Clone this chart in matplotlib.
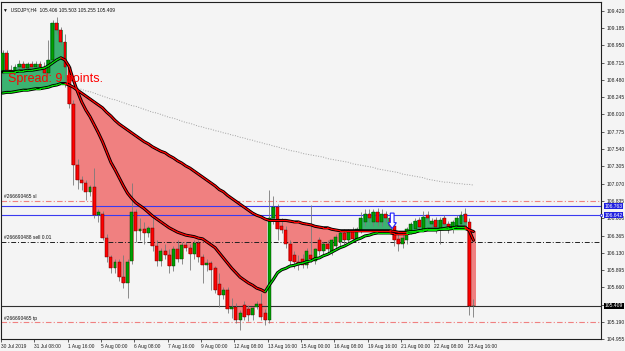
import matplotlib
matplotlib.use("Agg")
import matplotlib.pyplot as plt
import matplotlib.transforms as mtransforms
from matplotlib.collections import LineCollection
from matplotlib.patches import FancyArrow
import numpy as np

plt.rcParams['font.family'] = ['Liberation Sans', 'DejaVu Sans']

# USDJPY H4 bars, 30 Jul 2019 00:00 -> 23 Aug 2019 20:00 (one row = one trading day)
opens = [
    108.58, 108.85, 108.62, 108.60, 108.66, 108.70,
    108.64, 108.69, 108.65, 108.70, 108.66, 108.58,
    108.75, 109.25, 109.16, 109.00, 108.65, 108.15,
    107.32, 107.12, 107.08, 106.95, 107.02, 106.64,
    106.66, 106.33, 106.07, 105.92, 106.00, 105.80,
    105.72, 106.02, 106.68, 106.42, 106.45, 106.40,
    106.47, 106.22, 106.02, 106.15, 106.10, 105.95,
    106.18, 106.05, 106.24, 106.20, 106.12, 106.27,
    106.07, 105.96, 105.99, 105.92, 105.70, 105.56,
    105.63, 105.36, 105.40, 105.22, 105.42, 105.36,
    105.28, 105.40, 105.44, 105.31, 105.22, 106.60,
    106.75, 106.50, 106.44, 106.25, 106.10, 106.00,
    106.05, 105.97, 106.10, 106.02, 106.30, 106.15,
    106.25, 106.15, 106.22, 106.28, 106.40, 106.30,
    106.42, 106.32, 106.42, 106.55, 106.66, 106.55,
    106.68, 106.55, 106.66, 106.60, 106.50, 106.32,
    106.25, 106.30, 106.42, 106.45, 106.58, 106.45,
    106.64, 106.52, 106.58, 106.46, 106.60, 106.52,
    106.45, 106.50, 106.52, 106.66, 106.55, 105.406,
]
highs = [
    108.88, 108.88, 108.68, 108.70, 108.75, 108.74,
    108.72, 108.74, 108.73, 108.74, 108.72, 109.02,
    109.30, 109.33, 109.20, 109.10, 108.70, 108.20,
    107.40, 107.18, 107.12, 107.05, 107.28, 106.72,
    106.70, 106.38, 106.10, 106.05, 106.05, 106.10,
    106.05, 107.08, 106.72, 106.60, 106.55, 106.50,
    106.62, 106.30, 106.20, 106.25, 106.18, 106.22,
    106.30, 106.28, 106.28, 106.25, 106.30, 106.30,
    106.12, 106.05, 106.02, 105.95, 105.85, 105.66,
    105.66, 105.52, 105.45, 105.35, 105.48, 105.42,
    105.40, 105.48, 105.58, 105.36, 106.98, 106.90,
    106.80, 106.60, 106.50, 106.30, 106.15, 106.10,
    106.12, 106.20, 106.78, 106.20, 106.35, 106.28,
    106.30, 106.32, 106.38, 106.45, 106.45, 106.45,
    106.48, 106.48, 106.68, 106.72, 106.72, 106.72,
    106.74, 106.72, 106.70, 106.64, 106.55, 106.40,
    106.38, 106.48, 106.55, 106.60, 106.62, 106.70,
    106.70, 106.60, 106.62, 106.62, 106.64, 106.56,
    106.58, 106.64, 106.70, 106.74, 106.60, 105.503,
]
lows = [
    108.55, 108.58, 108.55, 108.56, 108.60, 108.60,
    108.60, 108.62, 108.60, 108.62, 108.55, 108.55,
    108.72, 109.10, 108.95, 108.38, 108.10, 107.05,
    107.00, 106.98, 106.85, 106.90, 106.60, 106.55,
    106.30, 106.00, 105.85, 105.85, 105.75, 105.65,
    105.52, 105.98, 106.28, 106.30, 106.25, 106.35,
    106.15, 105.95, 105.95, 106.05, 105.85, 105.88,
    106.00, 105.98, 106.15, 105.90, 106.05, 106.00,
    105.72, 105.88, 105.63, 105.58, 105.39, 105.50,
    105.31, 105.25, 105.18, 105.08, 105.22, 105.21,
    105.22, 105.36, 105.22, 105.15, 105.18, 106.52,
    106.30, 106.40, 106.20, 105.95, 105.92, 105.90,
    105.92, 105.93, 106.00, 105.98, 106.10, 106.10,
    106.12, 106.10, 106.18, 106.22, 106.25, 106.25,
    106.28, 106.30, 106.40, 106.50, 106.55, 106.50,
    106.50, 106.50, 106.55, 106.45, 106.22, 106.16,
    106.20, 106.25, 106.38, 106.40, 106.42, 106.42,
    106.55, 106.45, 106.40, 106.25, 106.45, 106.40,
    106.40, 106.46, 106.48, 106.50, 105.28, 105.255,
]
closes = [
    108.85, 108.62, 108.60, 108.66, 108.70, 108.64,
    108.69, 108.65, 108.70, 108.66, 108.58, 108.75,
    109.25, 109.16, 109.00, 108.65, 108.15, 107.32,
    107.12, 107.08, 106.95, 107.02, 106.64, 106.68,
    106.33, 106.07, 105.92, 106.00, 105.80, 105.72,
    106.00, 106.68, 106.42, 106.45, 106.40, 106.47,
    106.22, 106.02, 106.15, 106.10, 105.95, 106.18,
    106.05, 106.24, 106.20, 106.12, 106.27, 106.07,
    105.96, 105.99, 105.90, 105.62, 105.56, 105.63,
    105.36, 105.40, 105.22, 105.31, 105.26, 105.28,
    105.38, 105.44, 105.26, 105.22, 106.60, 106.75,
    106.45, 106.44, 106.25, 106.02, 106.00, 105.97,
    105.97, 106.15, 106.05, 106.18, 106.15, 106.25,
    106.18, 106.30, 106.35, 106.40, 106.30, 106.42,
    106.32, 106.45, 106.60, 106.66, 106.60, 106.68,
    106.55, 106.66, 106.60, 106.50, 106.30, 106.25,
    106.33, 106.45, 106.52, 106.56, 106.48, 106.62,
    106.60, 106.56, 106.48, 106.58, 106.52, 106.46,
    106.55, 106.60, 106.64, 106.55, 105.406, 105.409,
]

# indicator lines (price per bar)
fast_ma = [
    108.59, 108.59, 108.59, 108.59, 108.60, 108.60,
    108.61, 108.61, 108.62, 108.63, 108.64, 108.67,
    108.71, 108.75, 108.78, 108.75, 108.66, 108.48,
    108.32, 108.18, 108.07, 107.98, 107.87, 107.76,
    107.64, 107.50, 107.36, 107.26, 107.15, 107.04,
    106.94, 106.87, 106.81, 106.77, 106.73, 106.68,
    106.63, 106.59, 106.55, 106.51, 106.47, 106.44,
    106.41, 106.39, 106.37, 106.36, 106.35, 106.33,
    106.32, 106.28, 106.24, 106.20, 106.13, 106.06,
    105.99, 105.92, 105.86, 105.80, 105.76, 105.72,
    105.69, 105.65, 105.63, 105.60, 105.69, 105.77,
    105.86, 105.90, 105.92, 105.95, 105.96, 105.98,
    105.99, 106.01, 106.02, 106.05, 106.06, 106.09,
    106.11, 106.14, 106.17, 106.20, 106.22, 106.25,
    106.28, 106.31, 106.33, 106.36, 106.37, 106.39,
    106.40, 106.40, 106.40, 106.40, 106.39, 106.39,
    106.39, 106.39, 106.40, 106.41, 106.43, 106.44,
    106.45, 106.45, 106.45, 106.45, 106.46, 106.47,
    106.47, 106.48, 106.48, 106.48, 106.43, 106.30,
]
slow_ma = [
    108.30, 108.31, 108.31, 108.32, 108.33, 108.34,
    108.34, 108.35, 108.36, 108.36, 108.37, 108.38,
    108.40, 108.41, 108.43, 108.43, 108.41, 108.38,
    108.34, 108.30, 108.26, 108.22, 108.18, 108.14,
    108.10, 108.04, 107.99, 107.93, 107.88, 107.84,
    107.80, 107.76, 107.72, 107.68, 107.64, 107.61,
    107.57, 107.54, 107.51, 107.49, 107.45, 107.42,
    107.38, 107.35, 107.31, 107.28, 107.24, 107.20,
    107.16, 107.12, 107.08, 107.04, 106.99, 106.96,
    106.91, 106.87, 106.83, 106.79, 106.75, 106.71,
    106.67, 106.64, 106.62, 106.59, 106.57, 106.57,
    106.57, 106.57, 106.57, 106.56, 106.55, 106.55,
    106.53, 106.52, 106.51, 106.49, 106.48, 106.47,
    106.47, 106.45, 106.44, 106.43, 106.43, 106.43,
    106.43, 106.43, 106.43, 106.43, 106.43, 106.43,
    106.43, 106.43, 106.43, 106.43, 106.42, 106.41,
    106.41, 106.41, 106.42, 106.42, 106.43, 106.43,
    106.44, 106.44, 106.44, 106.45, 106.45, 106.45,
    106.46, 106.46, 106.46, 106.46, 106.44, 106.42,
]
# long dotted average, visible from bar 17 on
long_start = 17
long_ma = [
    108.39, 108.37, 108.35, 108.33, 108.32, 108.30, 108.28,
    108.26, 108.24, 108.22, 108.21, 108.19, 108.17,
    108.15, 108.13, 108.12, 108.10, 108.08, 108.06,
    108.04, 108.03, 108.01, 107.99, 107.97, 107.96,
    107.94, 107.92, 107.90, 107.89, 107.87, 107.85,
    107.84, 107.82, 107.81, 107.79, 107.78, 107.76,
    107.75, 107.73, 107.72, 107.70, 107.69, 107.67,
    107.66, 107.64, 107.63, 107.61, 107.60, 107.58,
    107.57, 107.55, 107.54, 107.52, 107.51, 107.50,
    107.48, 107.47, 107.46, 107.45, 107.44, 107.43,
    107.41, 107.40, 107.39, 107.38, 107.37, 107.36,
    107.34, 107.33, 107.32, 107.31, 107.30, 107.29,
    107.27, 107.26, 107.25, 107.24, 107.23, 107.22,
    107.20, 107.19, 107.18, 107.17, 107.16, 107.15,
    107.13, 107.12, 107.11, 107.10, 107.09, 107.09,
    107.08, 107.07, 107.07, 107.06, 107.06, 107.05,
]

date_label_bars = [0, 8, 16, 24, 32, 40, 48, 56, 64, 72, 80, 88, 96, 104, 112]
date_labels = ["30 Jul 2019", "31 Jul 08:00", "1 Aug 16:00", "5 Aug 00:00", "6 Aug 08:00",
               "7 Aug 16:00", "9 Aug 00:00", "12 Aug 08:00", "13 Aug 16:00", "15 Aug 00:00",
               "16 Aug 08:00", "19 Aug 16:00", "21 Aug 00:00", "22 Aug 08:00", "23 Aug 16:00"]
price_ticks = [104.955, 105.190, 105.425, 105.660, 105.895, 106.130, 106.365, 106.600,
               106.835, 107.070, 107.305, 107.540, 107.775, 108.010, 108.245, 108.480,
               108.715, 108.950, 109.185, 109.420]

# order lines
sl_price = 106.84
tp_price = 105.19
sell_price = 106.28
bid_price = 105.409
blue_lines = [106.763, 106.642]
sell_arrow_bar = 93.5
sell_arrow_top = 106.67
sell_arrow_bottom = 106.46

BG = '#F4F4F4'
GREEN_FILL = '#3CB371'
PINK_FILL = '#F08080'

o = np.array(opens)
h = np.array(highs)
l = np.array(lows)
c = np.array(closes)
slow = np.array(slow_ma)
fast = np.array(fast_ma)
n = len(c)
x = np.arange(n)

fig = plt.figure(figsize=(6.25, 3.51), dpi=100, facecolor=BG)
ax = fig.add_axes([1 / 625, 11.7 / 351, 600 / 625, 337.3 / 351])
ax.set_facecolor(BG)
ax.set_xlim(-0.36, 143.6)
ax.set_ylim(104.955, 109.538)

# histogram between slow average and candle body
above = c >= slow
top = np.where(above, np.maximum(o, c), slow)
bot = np.where(above, slow, np.minimum(o, c))
ax.bar(x[above], (top - bot)[above], bottom=bot[above], width=1.0,
       color=GREEN_FILL, linewidth=0, zorder=1)
ax.bar(x[~above], (top - bot)[~above], bottom=bot[~above], width=1.0,
       color=PINK_FILL, linewidth=0, zorder=1)

# long dotted average
ax.plot(x[long_start:], long_ma, color='#A0A0A0', lw=0.7, ls=(0, (1, 1.6)), zorder=1.5)

# candles
ax.vlines(x, l, h, color='#7A7A7A', lw=0.6, zorder=3)
bull = c >= o
body = np.maximum(np.abs(c - o), 0.006)
ax.bar(x[bull], body[bull], bottom=np.minimum(o, c)[bull], width=0.7,
       color='#00A000', edgecolor='#003000', linewidth=0.3, zorder=3.2)
ax.bar(x[~bull], body[~bull], bottom=np.minimum(o, c)[~bull], width=0.7,
       color='#FF0000', edgecolor='#500000', linewidth=0.3, zorder=3.2)


def two_colour_line(vals):
    ax.plot(x, vals, color='black', lw=2.2, solid_capstyle='round',
            solid_joinstyle='round', zorder=4)
    cols = []
    prev = '#00E000'
    for i in range(1, n):
        if vals[i] > vals[i - 1]:
            prev = '#00E000'
        elif vals[i] < vals[i - 1]:
            prev = '#FF0000'
        cols.append(prev)
    segs = np.stack([np.column_stack([x[:-1], vals[:-1]]),
                     np.column_stack([x[1:], vals[1:]])], axis=1)
    ax.add_collection(LineCollection(segs, colors=cols, linewidths=0.9,
                                     capstyle='round', zorder=4.1))


two_colour_line(slow)
two_colour_line(fast)

# order / price lines
ax.axhline(sl_price, color=PINK_FILL, lw=0.8, ls=(0, (5, 2, 1, 2)), zorder=2)
ax.axhline(tp_price, color=PINK_FILL, lw=0.8, ls=(0, (5, 2, 1, 2)), zorder=2)
ax.axhline(sell_price, color='#202020', lw=0.7, ls=(0, (5, 2, 1, 2)), zorder=2)
ax.axhline(bid_price, color='#303030', lw=0.8, zorder=2)
for bl in blue_lines:
    ax.axhline(bl, color='#3A3AF0', lw=0.8, zorder=2)

lbl_kw = dict(fontsize=3.5, color='#101010', ha='left', va='bottom', zorder=5)
ax.text(0.3, sl_price + 0.02, "#266690465 sl", **lbl_kw)
ax.text(0.3, sell_price + 0.02, "#266690488 sell 0.01", **lbl_kw)
ax.text(0.3, tp_price + 0.02, "#266690465 tp", **lbl_kw)

# sell arrow (hollow, blue)
ax.add_patch(FancyArrow(sell_arrow_bar, sell_arrow_top, 0, sell_arrow_bottom - sell_arrow_top,
                        width=0.9, head_width=2.0, head_length=0.08,
                        length_includes_head=True, facecolor='white',
                        edgecolor='#2020FF', linewidth=0.8, zorder=6))

# chart texts
ax.text(0.012, 0.763, "Spread: 9 points.", transform=ax.transAxes, fontsize=9,
        color='#FF0000', ha='left', va='baseline', zorder=7)
ax.text(0.004, 0.977, "\u25bc  USDJPY,H4  105.406 105.503 105.255 105.409",
        transform=ax.transAxes, fontsize=3.5, color='#101010', ha='left', va='center',
        zorder=7)

# axes, ticks
for sp in ax.spines.values():
    sp.set_color('#202020')
    sp.set_linewidth(0.8)
ax.yaxis.tick_right()
ax.set_yticks(price_ticks)
ax.set_yticklabels([f"{t:.3f}" for t in price_ticks])
ax.set_xticks(np.array(date_label_bars) - 0.35)
ax.set_xticklabels(date_labels, ha='left')
ax.tick_params(axis='y', direction='out', length=2.2, width=0.5, pad=1.5,
               labelsize=3.6, colors='#202020')
ax.tick_params(axis='x', direction='out', length=2.2, width=0.5, pad=1.2,
               labelsize=3.5, colors='#202020')

# right-hand price boxes
tr = mtransforms.blended_transform_factory(ax.transAxes, ax.transData)
for bl in blue_lines:
    ax.text(1.006, bl, f"{bl:.3f}", transform=tr, fontsize=3.6, color='white',
            ha='left', va='center', clip_on=False, zorder=8,
            bbox=dict(facecolor='#2020E0', edgecolor='none', pad=0.5))
ax.plot([1.0], [blue_lines[1]], marker='s', ms=2, mfc='white', mec='#2020E0',
        mew=0.5, transform=tr, clip_on=False, zorder=8)
ax.text(1.006, bid_price, f"{bid_price:.3f}", transform=tr, fontsize=3.6, color='white',
        ha='left', va='center', clip_on=False, zorder=8,
        bbox=dict(facecolor='black', edgecolor='none', pad=0.5))

fig.savefig('out.png', dpi=100, facecolor=BG)
